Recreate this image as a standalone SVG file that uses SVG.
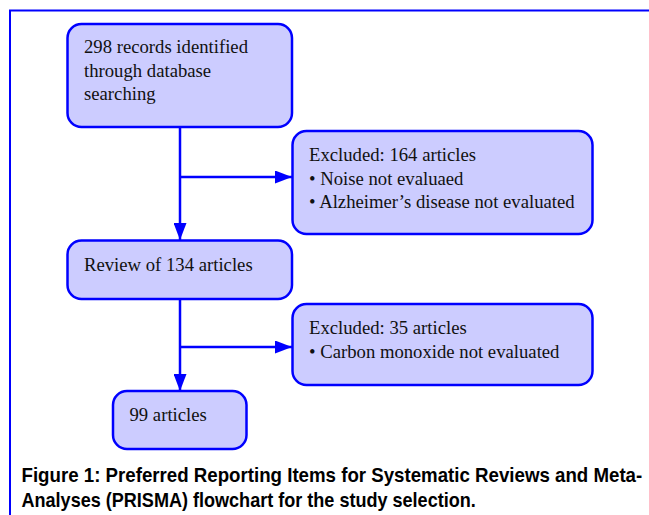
<svg xmlns="http://www.w3.org/2000/svg" width="649" height="515" viewBox="0 0 649 515">
<style>
.box{fill:#CCCCFF;stroke:#0000FF;stroke-width:2.5}
.t{font-family:"Liberation Serif","Times New Roman",serif;font-size:18.7px;fill:#111}
.c{font-family:"Liberation Sans",Arial,sans-serif;font-size:20px;font-weight:bold;fill:#000}
.ln{stroke:#0000FF;stroke-width:2.5;fill:none}
</style>
<defs>
<marker id="ah" viewBox="0 0 17 13" refX="17" refY="6.5" markerWidth="17" markerHeight="13" markerUnits="userSpaceOnUse" orient="auto">
<path d="M0,0 L17,6.5 L0,13 Z" fill="#0000FF"/>
</marker>
</defs>
<rect x="0" y="0" width="649" height="515" fill="#fff"/>
<path d="M10,515 V10.5 H649" fill="none" stroke="#0000FF" stroke-width="2"/>
<g id="connectors">
<line class="ln" x1="180" y1="127" x2="180" y2="240" marker-end="url(#ah)"/>
<line class="ln" x1="180" y1="177" x2="292" y2="177" marker-end="url(#ah)"/>
<line class="ln" x1="180" y1="299" x2="180" y2="391" marker-end="url(#ah)"/>
<line class="ln" x1="180" y1="347" x2="292" y2="347" marker-end="url(#ah)"/>
</g>
<g id="n1">
<rect class="box" x="67.5" y="24" width="224.5" height="103" rx="14"/>
<text class="t" x="84" y="53">298 records identified</text>
<text class="t" x="84" y="77">through database</text>
<text class="t" x="84" y="100">searching</text>
</g>
<g id="n2">
<rect class="box" x="292.5" y="131" width="300" height="103" rx="14"/>
<text class="t" x="309" y="161">Excluded: 164 articles</text>
<text class="t" x="309" y="185">• Noise not evaluaed</text>
<text class="t" x="309" y="208">• Alzheimer’s disease not evaluated</text>
</g>
<g id="n3">
<rect class="box" x="67.5" y="240.5" width="224.5" height="58.5" rx="14"/>
<text class="t" x="84" y="271">Review of 134 articles</text>
</g>
<g id="n4">
<rect class="box" x="292.5" y="304" width="300" height="81" rx="14"/>
<text class="t" x="309" y="334">Excluded: 35 articles</text>
<text class="t" x="309" y="358">• Carbon monoxide not evaluated</text>
</g>
<g id="n5">
<rect class="box" x="113" y="391" width="133.5" height="58" rx="14"/>
<text class="t" x="129.5" y="421">99 articles</text>
</g>
<g id="caption">
<text class="c" transform="translate(21.5,482) scale(0.82,1)" x="0" y="0" textLength="757" lengthAdjust="spacingAndGlyphs">Figure 1: Preferred Reporting Items for Systematic Reviews and Meta-</text>
<text class="c" transform="translate(21.5,507) scale(0.82,1)" x="0" y="0" textLength="554" lengthAdjust="spacingAndGlyphs">Analyses (PRISMA) flowchart for the study selection.</text>
</g>
</svg>
